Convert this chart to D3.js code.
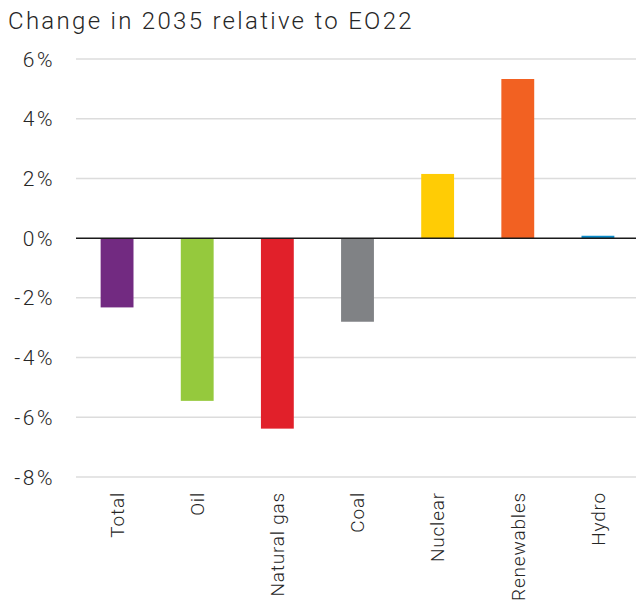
<!DOCTYPE html>
<html>
<head>
<meta charset="utf-8">
<script src="https://cdn.jsdelivr.net/npm/d3@7"></script>
<style>
  body { margin: 0; background: #fff; }
  text { font-family: Roboto, "Liberation Sans", Arial, sans-serif; font-weight: 300; fill: #262626; }
</style>
</head>
<body>
<div id="chart"></div>
<script>
// data
var categories = ["Total", "Oil", "Natural gas", "Coal", "Nuclear", "Renewables", "Hydro"];
var values = [-2.32, -5.45, -6.38, -2.8, 2.15, 5.33, 0.08];
var colors = ["#722a81", "#95c93d", "#e1202a", "#808285", "#ffcc05", "#f26122", "#0a8ccb"];
var yTicks = [6, 4, 2, 0, -2, -4, -6, -8];

var width = 636, height = 607;

var svg = d3.select("#chart")
    .append("svg")
    .attr("width", width)
    .attr("height", height);

var x = d3.scaleBand()
    .domain(categories)
    .range([77, 638])
    .paddingInner(0.59)
    .paddingOuter(0.295);

var y = d3.scaleLinear()
    .domain([-8, 6])
    .range([477, 59]);

// title
svg.append("text")
    .attr("x", 8)
    .attr("y", 29)
    .style("font-size", "24px")
    .style("letter-spacing", "2.3px")
    .text("Change in 2035 relative to EO22");

// gridlines
svg.selectAll(".grid")
    .data(yTicks.filter(function (d) { return d !== 0; }))
    .enter()
    .append("line")
    .attr("x1", 76)
    .attr("x2", 636)
    .attr("y1", function (d) { return y(d); })
    .attr("y2", function (d) { return y(d); })
    .attr("stroke", "#dcdcdc")
    .attr("stroke-width", 1.5);

// y labels
svg.selectAll(".ylab")
    .data(yTicks)
    .enter()
    .append("text")
    .attr("x", 55)
    .attr("y", function (d) { return y(d); })
    .attr("dy", "0.36em")
    .attr("text-anchor", "end")
    .style("font-size", "21px")
    .style("letter-spacing", "2.5px")
    .text(function (d) { return d + "%"; });

// bars
svg.selectAll(".bar")
    .data(categories)
    .enter()
    .append("rect")
    .attr("x", function (d) { return x(d); })
    .attr("width", x.bandwidth())
    .attr("y", function (d, i) { return y(Math.max(0, values[i])); })
    .attr("height", function (d, i) { return Math.abs(y(values[i]) - y(0)); })
    .attr("fill", function (d, i) { return colors[i]; });

// zero line
svg.append("line")
    .attr("x1", 76)
    .attr("x2", 636)
    .attr("y1", y(0))
    .attr("y2", y(0))
    .attr("stroke", "#1a1a1a")
    .attr("stroke-width", 1.5);

// category labels
svg.selectAll(".xlab")
    .data(categories)
    .enter()
    .append("text")
    .attr("transform", function (d) {
        return "translate(" + (x(d) + x.bandwidth() / 2) + ",492) rotate(-90)";
    })
    .attr("dy", "0.36em")
    .attr("text-anchor", "end")
    .style("font-size", "19px")
    .style("letter-spacing", "0.8px")
    .text(function (d) { return d; });
</script>
</body>
</html>
